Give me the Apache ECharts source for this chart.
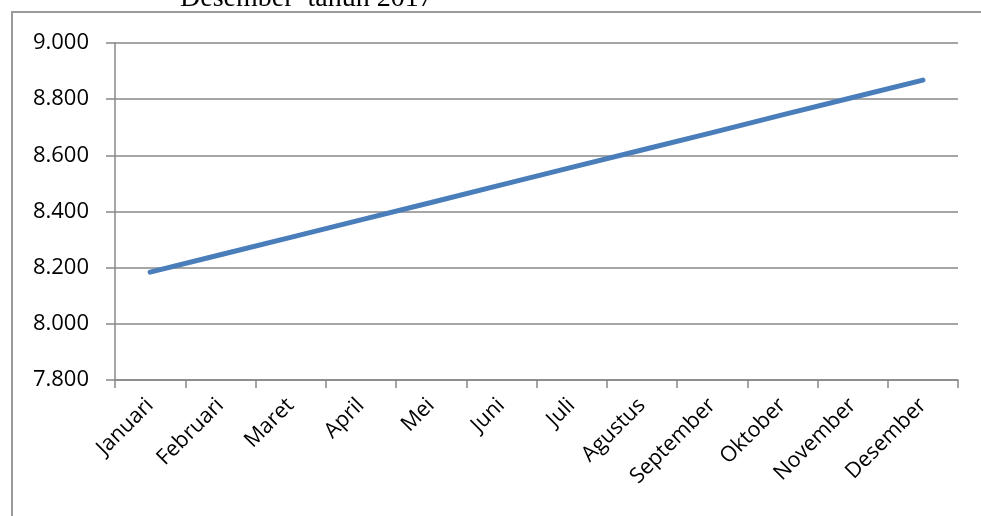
<!DOCTYPE html>
<html>
<head>
<meta charset="utf-8">
<script src="https://cdn.jsdelivr.net/npm/echarts@6/dist/echarts.min.js"></script>
<style>
html,body{margin:0;padding:0;background:#fff;}
#c{width:981px;height:516px;}
</style>
</head>
<body>
<div id="c"></div>
<script>
const categories = ['Januari','Februari','Maret','April','Mei','Juni','Juli','Agustus','September','Oktober','November','Desember'];
const values = [8184, 8246, 8308, 8370, 8432, 8495, 8557, 8619, 8681, 8744, 8806, 8868];
const yMin = 7800, yMax = 9000, yStep = 200;
const headingText = 'Desember  tahun 2017';

const chart = echarts.init(document.getElementById('c'));
const gray = '#888888';
chart.setOption({
  animation: false,
  backgroundColor: '#fff',
  graphic: [
    {type:'rect', shape:{x:12, y:12, width:1000, height:600}, style:{fill:'none', stroke:'#9a9a9a', lineWidth:2}, z:-1},
    {type:'text', x:180, y:-15, style:{text: headingText, font:'28px "Liberation Serif"', fill:'#000'}}
  ],
  grid: {left:115, right:23, top:43, bottom:136, containLabel:false},
  xAxis: {
    type:'category', data: categories, boundaryGap:true,
    axisLine:{show:true, lineStyle:{color:gray, width:1.5}},
    axisTick:{show:true, length:8, lineStyle:{color:gray, width:1.5}},
    axisLabel:{rotate:45, margin:22, color:'#000', fontSize:21.5, fontFamily:'"Open Sans"'},
    splitLine:{show:false}
  },
  yAxis: {
    type:'value', min:yMin, max:yMax, interval:yStep,
    axisLine:{show:true, lineStyle:{color:gray, width:1.5}},
    axisTick:{show:true, length:9, lineStyle:{color:gray, width:1.5}},
    axisLabel:{margin:26, color:'#000', fontSize:22, fontFamily:'"Open Sans"',
      formatter: v => { const s = String(v); return s.length>3 ? s.slice(0,s.length-3)+'.'+s.slice(-3) : s; }},
    splitLine:{show:true, lineStyle:{color:gray, width:1.5}}
  },
  series: [{
    type:'line', data: values, showSymbol:false, symbol:'none',
    lineStyle:{color:'#4a7ebb', width:5, cap:'round'}
  }]
});
</script>
</body>
</html>
